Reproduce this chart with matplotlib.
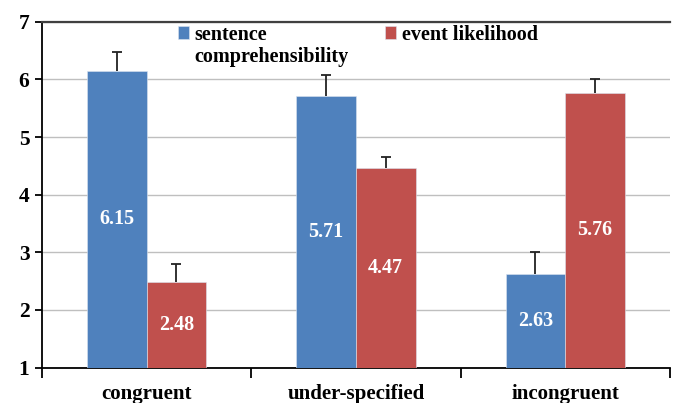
import matplotlib.pyplot as plt
import numpy as np

categories = ['congruent', 'under-specified', 'incongruent']
comprehensibility = [6.15, 5.71, 2.63]
likelihood = [2.48, 4.47, 5.76]
comp_err = [0.33, 0.37, 0.38]
like_err = [0.32, 0.19, 0.25]
series_names = ['sentence', 'event likelihood']
second_line = 'comprehensibility'

BLUE = '#4F81BD'
RED = '#C0504D'
BASE = 1
SERIF = 'Liberation Serif'


def draw_bars(ax, x, values, errors, color, width):
    heights = [v - BASE for v in values]
    bars = ax.bar(x, heights, width, bottom=BASE, color=color,
                  edgecolor='#dbe4f0', linewidth=0.4, zorder=3)
    _, caps, _ = ax.errorbar(x, values, yerr=[[0] * len(errors), errors],
                             fmt='none', ecolor='#222222', elinewidth=1.3,
                             capsize=3.5, capthick=1.3, zorder=4)
    caps[0].set_visible(False)  # only the upper cap
    for xi, v in zip(x, values):
        ax.text(xi, (v + BASE) / 2, f'{v:.2f}', ha='center', va='center',
                color='white', fontsize=14.5, fontweight='bold',
                family=SERIF, zorder=5)
    return bars


def main():
    fig = plt.figure(figsize=(6.76, 4.03), dpi=100)
    ax = fig.add_axes([0.062, 0.088, 0.929, 0.858])

    x = np.arange(len(categories))
    width = 0.285
    b1 = draw_bars(ax, x - width / 2, comprehensibility, comp_err, BLUE, width)
    b2 = draw_bars(ax, x + width / 2, likelihood, like_err, RED, width)

    ax.set_xlim(-0.5, len(categories) - 0.5)
    ax.set_ylim(1, 7)
    ax.set_yticks(range(1, 8))
    ax.yaxis.grid(True, color='#bfbfbf', linewidth=1.0, zorder=0)
    ax.set_axisbelow(True)

    ax.set_xticks(x)
    ax.set_xticklabels(categories)
    ax.set_xticks(np.arange(-0.5, len(categories)), minor=True)
    ax.tick_params(axis='x', which='major', length=0, pad=12)
    ax.tick_params(axis='x', which='minor', length=7, width=1.3, direction='out')
    ax.tick_params(axis='y', length=5, width=1.3, direction='out', pad=4)

    for lab in ax.get_xticklabels() + ax.get_yticklabels():
        lab.set_family(SERIF)
        lab.set_fontweight('bold')
    for lab in ax.get_xticklabels():
        lab.set_fontsize(15)
    for lab in ax.get_yticklabels():
        lab.set_fontsize(15.5)

    ax.spines['right'].set_visible(False)
    ax.spines['top'].set_color('#404040')
    ax.spines['top'].set_linewidth(1.6)
    ax.spines['left'].set_linewidth(1.3)
    ax.spines['bottom'].set_linewidth(1.3)

    leg = ax.legend([b1, b2], series_names, ncol=2, loc='upper left',
                    bbox_to_anchor=(0.2, 1.02), frameon=False,
                    prop={'family': SERIF, 'weight': 'bold', 'size': 14.5},
                    handlelength=0.55, handleheight=0.6, handletextpad=0.3,
                    columnspacing=5.85, borderaxespad=0.1)

    # second line of the first legend entry, under "sentence"
    fig.canvas.draw()
    bb = leg.get_texts()[0].get_window_extent()
    x0, y0 = fig.transFigure.inverted().transform((bb.x0, bb.y0))
    fig.text(x0, y0 - 0.004, second_line, ha='left', va='top',
             family=SERIF, fontweight='bold', fontsize=14.5)

    fig.savefig('out.png', dpi=100)


if __name__ == '__main__':
    main()
